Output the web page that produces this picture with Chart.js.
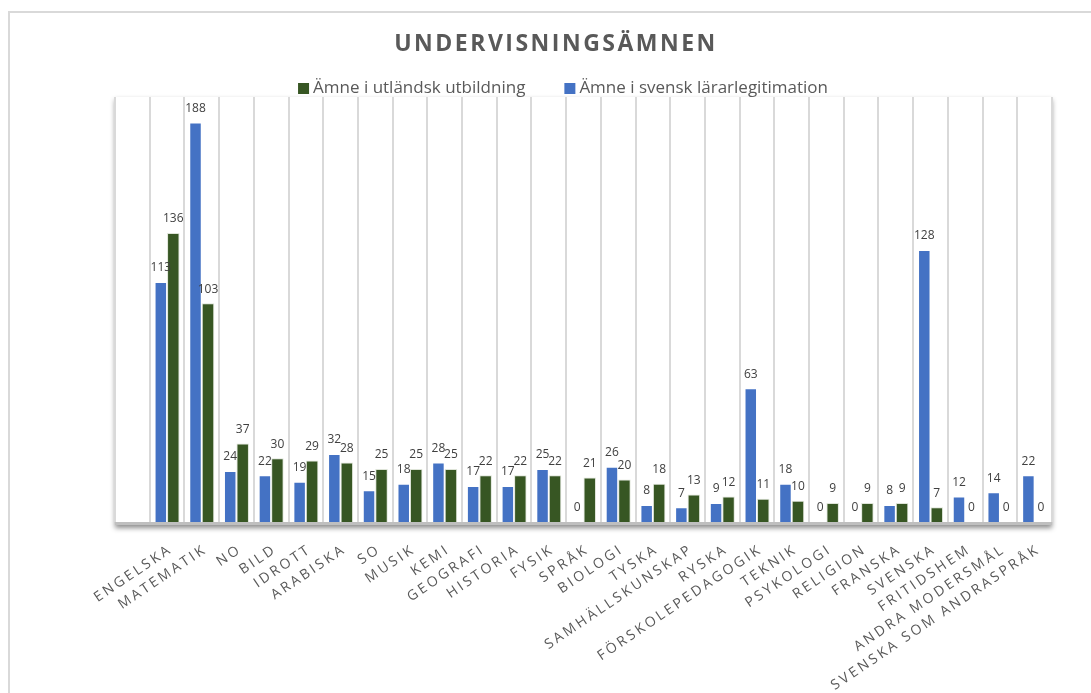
<!DOCTYPE html>
<html>
<head>
<meta charset="utf-8">
<script src="https://cdn.jsdelivr.net/npm/chart.js@4/dist/chart.umd.min.js"></script>
<style>
  body { margin: 0; background: #fff; }
  #wrap { width: 1091px; height: 693px; position: relative; }
</style>
</head>
<body>
<div id="wrap"><canvas id="grafico"></canvas></div>
<script>
// Data läst från bilden
const titel = 'UNDERVISNINGSÄMNEN';
const amnen = ['ENGELSKA', 'MATEMATIK', 'NO', 'BILD', 'IDROTT', 'ARABISKA', 'SO', 'MUSIK', 'KEMI',
    'GEOGRAFI', 'HISTORIA', 'FYSIK', 'SPRÅK', 'BIOLOGI', 'TYSKA', 'SAMHÄLLSKUNSKAP', 'RYSKA',
    'FÖRSKOLEPEDAGOGIK', 'TEKNIK', 'PSYKOLOGI', 'RELIGION', 'FRANSKA', 'SVENSKA', 'FRITIDSHEM',
    'ANDRA MODERSMÅL', 'SVENSKA SOM ANDRASPRÅK'];
const svenskLegitimation = [113, 188, 24, 22, 19, 32, 15, 18, 28, 17, 17, 25, 0, 26, 8, 7, 9, 63, 18, 0, 0, 8, 128, 12, 14, 22];
const utlandskUtbildning = [136, 103, 37, 30, 29, 28, 25, 25, 25, 22, 22, 22, 21, 20, 18, 13, 12, 11, 10, 9, 9, 9, 7, 0, 0, 0];

const blaFarg = '#4472c4';
const gronFarg = '#375623';
const gra = '#595959';

// i originalet finns en tom första rad i tabellen
const etiketter = [''].concat(amnen);

const ram = {
    id: 'ram',
    beforeDraw(chart) {
        const ctx = chart.ctx, a = chart.chartArea;
        ctx.save();
        ctx.strokeStyle = '#d9d9d9';
        ctx.lineWidth = 2;
        ctx.strokeRect(9, 12, chart.width + 40, chart.height + 40);
        ctx.shadowColor = 'rgba(0,0,0,0.45)';
        ctx.shadowBlur = 5;
        ctx.shadowOffsetY = 3;
        ctx.fillStyle = '#fff';
        ctx.fillRect(a.left, a.top, a.right - a.left, a.bottom - a.top + 3);
        ctx.restore();
        ctx.fillStyle = '#bfbfbf';
        ctx.fillRect(a.left, a.bottom, a.right - a.left, 3);
    },
    afterDatasetsDraw(chart) {
        const ctx = chart.ctx;
        ctx.save();
        ctx.font = '12px "Open Sans"';
        ctx.fillStyle = '#404040';
        ctx.textAlign = 'center';
        ctx.textBaseline = 'middle';
        chart.data.datasets.forEach((ds, d) => {
            chart.getDatasetMeta(d).data.forEach((bar, i) => {
                const v = ds.data[i];
                if (v === null) return;
                ctx.fillText(String(v), bar.x, bar.y - 14);
            });
        });
        ctx.restore();
    },
    afterDraw(chart) {
        const ctx = chart.ctx, a = chart.chartArea;
        const x = chart.scales.x;
        ctx.save();
        // titel
        ctx.fillStyle = gra;
        ctx.font = 'bold 23px "Open Sans"';
        ctx.letterSpacing = '2.5px';
        ctx.textAlign = 'center';
        ctx.textBaseline = 'middle';
        ctx.fillText(titel, 556, 44);

        // förklaring (omvänd ordning som i originalet)
        ctx.letterSpacing = '0px';
        ctx.font = '17px "Open Sans"';
        ctx.textAlign = 'left';
        const poster = chart.data.datasets.slice().reverse();
        const bredder = poster.map(p => 15 + ctx.measureText(p.label).width);
        const total = bredder.reduce((s, b) => s + b, 0) + 39 * (poster.length - 1);
        let lx = 563 - total / 2;
        poster.forEach((p, i) => {
            ctx.fillStyle = p.backgroundColor;
            ctx.fillRect(lx, 83, 11, 11);
            ctx.fillStyle = gra;
            ctx.fillText(p.label, lx + 15, 88);
            lx += bredder[i] + 39;
        });

        // kategorietiketter
        ctx.font = '14px "Open Sans"';
        ctx.letterSpacing = '2.8px';
        ctx.fillStyle = gra;
        ctx.textAlign = 'right';
        ctx.textBaseline = 'middle';
        amnen.forEach((namn, i) => {
            const px = x.getPixelForValue(i + 1);
            ctx.save();
            ctx.translate(px + 4, a.bottom + 26);
            ctx.rotate(-34 * Math.PI / 180);
            ctx.fillText(namn, 0, 0);
            ctx.restore();
        });
        ctx.restore();
    }
};

new Chart(document.getElementById('grafico'), {
    type: 'bar',
    data: {
        labels: etiketter,
        datasets: [{
            label: 'Ämne i svensk lärarlegitimation',
            data: [null].concat(svenskLegitimation),
            backgroundColor: blaFarg,
            borderColor: 'rgba(255,255,255,0.5)',
            borderWidth: 1
        }, {
            label: 'Ämne i utländsk utbildning',
            data: [null].concat(utlandskUtbildning),
            backgroundColor: gronFarg,
            borderColor: 'rgba(200,210,190,0.6)',
            borderWidth: 1
        }]
    },
    options: {
        responsive: true,
        maintainAspectRatio: false,
        animation: false,
        categoryPercentage: 0.72,
        barPercentage: 1,
        layout: {
            padding: { left: 115, right: 39, top: 97, bottom: 171 }
        },
        plugins: {
            legend: { display: false },
            title: { display: false },
            tooltip: { enabled: false }
        },
        scales: {
            x: {
                grid: { offset: true, color: '#d9d9d9', lineWidth: 2, drawTicks: false },
                border: { display: false },
                ticks: { display: false }
            },
            y: {
                display: false,
                min: 0,
                max: 200
            }
        }
    },
    plugins: [ram]
});
</script>
</body>
</html>
